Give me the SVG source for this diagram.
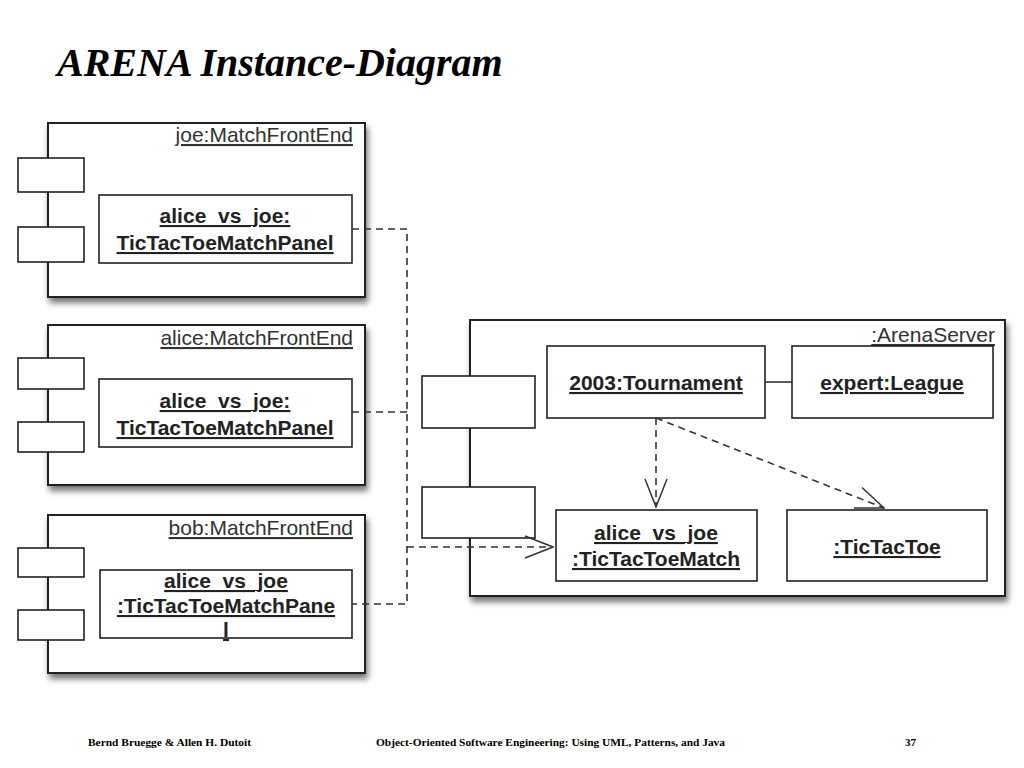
<svg xmlns="http://www.w3.org/2000/svg" width="1024" height="768" viewBox="0 0 1024 768">
<defs>
<filter id="sh" x="-10%" y="-10%" width="125%" height="130%">
<feGaussianBlur in="SourceAlpha" stdDeviation="3"/>
<feOffset dx="2" dy="5" result="b"/>
<feComponentTransfer><feFuncA type="linear" slope="0.55"/></feComponentTransfer>
<feMerge><feMergeNode/><feMergeNode in="SourceGraphic"/></feMerge>
</filter>
<marker id="open" viewBox="0 0 30 26" refX="29" refY="13" markerWidth="30" markerHeight="26" markerUnits="userSpaceOnUse" orient="auto">
<path d="M1,2 L29,13 L1,24" fill="none" stroke="#333" stroke-width="1.5"/>
</marker>
<style>
.outer{fill:#fff;stroke:#222;stroke-width:2;}
.box{fill:#fff;stroke:#222;stroke-width:1.6;}
.port{fill:#fff;stroke:#222;stroke-width:1.6;}
.lbl{font-family:"Liberation Sans",Arial,sans-serif;font-size:21px;fill:#333;text-decoration:underline;}
.obj{font-family:"Liberation Sans",Arial,sans-serif;font-size:21px;font-weight:bold;fill:#222;text-decoration:underline;text-anchor:middle;}
.dash{fill:none;stroke:#333;stroke-width:1.6;stroke-dasharray:7,5;}
.solid{fill:none;stroke:#333;stroke-width:1.6;}
.foot{font-family:"Liberation Serif","Times New Roman",serif;font-size:11px;font-weight:bold;fill:#000;}
</style>
</defs>
<rect width="1024" height="768" fill="#fff"/>
<text x="57" y="76" font-family="Liberation Serif,'Times New Roman',serif" font-size="40" font-weight="bold" font-style="italic" fill="#000">ARENA Instance-Diagram</text>

<g id="joe">
<rect class="outer" x="48" y="123" width="317" height="174" filter="url(#sh)"/>
<rect class="port" x="18" y="158" width="66" height="34"/>
<rect class="port" x="18" y="227" width="66" height="35"/>
<text class="lbl" x="353" y="142" text-anchor="end">joe:MatchFrontEnd</text>
<g id="joePanel">
<rect class="box" x="99" y="195" width="253" height="68"/>
<text class="obj" x="225" y="223">alice_vs_joe:</text>
<text class="obj" x="225" y="250">TicTacToeMatchPanel</text>
</g>
</g>

<g id="alice">
<rect class="outer" x="48" y="325" width="317" height="160" filter="url(#sh)"/>
<rect class="port" x="18" y="358" width="66" height="31"/>
<rect class="port" x="18" y="422" width="66" height="30"/>
<text class="lbl" x="353" y="345" text-anchor="end">alice:MatchFrontEnd</text>
<g id="alicePanel">
<rect class="box" x="99" y="379" width="253" height="68"/>
<text class="obj" x="225" y="408">alice_vs_joe:</text>
<text class="obj" x="225" y="435">TicTacToeMatchPanel</text>
</g>
</g>

<g id="bob">
<rect class="outer" x="48" y="515" width="317" height="158" filter="url(#sh)"/>
<rect class="port" x="18" y="548" width="66" height="29"/>
<rect class="port" x="18" y="610" width="66" height="30"/>
<text class="lbl" x="353" y="535" text-anchor="end">bob:MatchFrontEnd</text>
<g id="bobPanel">
<rect class="box" x="100" y="570" width="252" height="68"/>
<text class="obj" x="226" y="588">alice_vs_joe</text>
<text class="obj" x="226" y="613">:TicTacToeMatchPane</text>
<text class="obj" x="226" y="637">l</text>
</g>
</g>

<g id="arenaServer">
<rect class="outer" x="470" y="320" width="535" height="276" filter="url(#sh)"/>
<rect class="port" x="422" y="376" width="113" height="52"/>
<rect class="port" x="422" y="487" width="113" height="51"/>
<text class="lbl" x="995" y="342" text-anchor="end">:ArenaServer</text>
<g id="tournament">
<rect class="box" x="547" y="346" width="218" height="72"/>
<text class="obj" x="656" y="390">2003:Tournament</text>
</g>
<g id="league">
<rect class="box" x="792" y="346" width="201" height="72"/>
<text class="obj" x="892" y="390">expert:League</text>
</g>
<g id="match">
<rect class="box" x="556" y="510" width="201" height="71"/>
<text class="obj" x="656" y="540">alice_vs_joe</text>
<text class="obj" x="656" y="566">:TicTacToeMatch</text>
</g>
<g id="tictactoe">
<rect class="box" x="787" y="510" width="200" height="71"/>
<text class="obj" x="887" y="554">:TicTacToe</text>
</g>
</g>

<g id="connectors">
<polyline class="dash" points="352,229 407,229 407,604 352,604"/>
<line class="dash" x1="352" y1="412" x2="407" y2="412"/>
<line class="dash" x1="407" y1="547" x2="553" y2="547" marker-end="url(#open)"/>
<line class="solid" x1="765" y1="382" x2="792" y2="382"/>
<line class="dash" x1="656" y1="418" x2="656" y2="507" marker-end="url(#open)"/>
<line class="dash" x1="656" y1="418" x2="884" y2="508" marker-end="url(#open)"/>
</g>

<text class="foot" x="88" y="746" textLength="163" lengthAdjust="spacingAndGlyphs">Bernd Bruegge &amp; Allen H. Dutoit</text>
<text class="foot" x="376" y="746" textLength="349" lengthAdjust="spacingAndGlyphs">Object-Oriented Software Engineering: Using UML, Patterns, and Java</text>
<text class="foot" x="905" y="746">37</text>
</svg>
